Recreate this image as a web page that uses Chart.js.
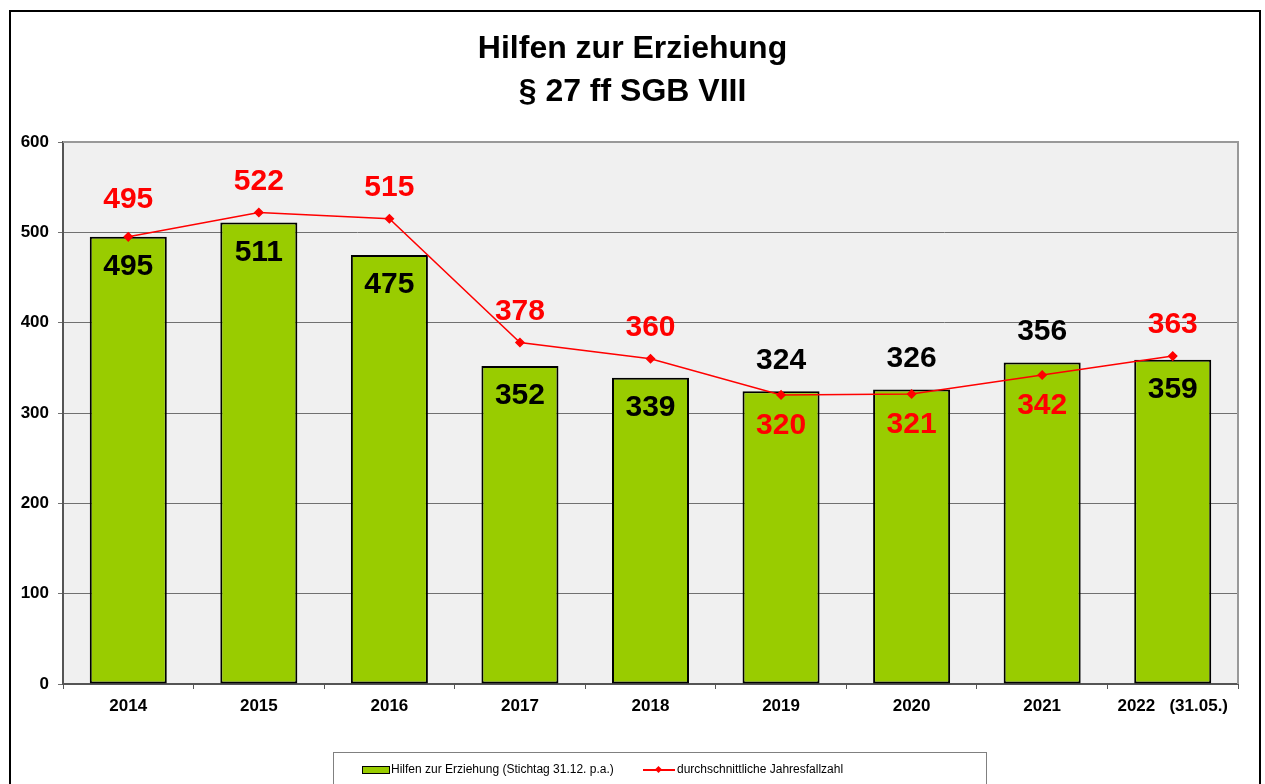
<!DOCTYPE html>
<html>
<head>
<meta charset="utf-8">
<script src="https://cdn.jsdelivr.net/npm/chart.js@4/dist/chart.umd.min.js"></script>
<style>
    body { margin: 0; background: #fff; font-family: "Liberation Sans", Arial, sans-serif; }
    #wrap { position: relative; width: 1265px; height: 784px; overflow: hidden; }
    #frame { position: absolute; left: 9px; top: 10px; width: 1252px; height: 800px; border: 2px solid #000; box-sizing: border-box; }
    #title { position: absolute; left: 0; width: 1265px; top: 26px; text-align: center; font-weight: bold; font-size: 32px; line-height: 43px; color: #000; }
    #chart { position: absolute; left: 0; top: 0; }
    #legend { position: absolute; left: 333px; top: 752px; width: 654px; height: 40px; border: 1px solid #808080; box-sizing: border-box; font-size: 12px; color: #000; }
    .item { position: absolute; top: 8px; white-space: nowrap; line-height: 16px; }
    .barkey { display: inline-block; width: 26px; height: 6px; background: #99cc00; border: 1px solid #000; vertical-align: middle; margin-right: 1px; }
    .linekey { display: inline-block; position: relative; width: 32px; height: 16px; vertical-align: middle; margin-right: 2px; }
    .linekey i { position: absolute; left: 0; top: 7px; width: 32px; height: 2px; background: #ff0000; }
    .linekey b { position: absolute; left: 13px; top: 5px; width: 5px; height: 5px; background: #ff0000; transform: rotate(45deg); }
</style>
</head>
<body>
<div id="wrap">
    <div id="frame"></div>
    <canvas id="chart" width="1265" height="784"></canvas>
    <div id="title">Hilfen zur Erziehung<br>§ 27 ff SGB VIII</div>
    <div id="legend">
        <div class="item" style="left:28px"><span class="barkey"></span>Hilfen zur Erziehung (Stichtag 31.12. p.a.)</div>
        <div class="item" style="left:309px"><span class="linekey"><i></i><b></b></span>durchschnittliche Jahresfallzahl</div>
    </div>
</div>
<script>
// Daten
const years = ['2014', '2015', '2016', '2017', '2018', '2019', '2020', '2021', '2022   (31.05.)'];
const stichtagValues = [495, 511, 475, 352, 339, 324, 326, 356, 359];
const jahresValues = [495, 522, 515, 378, 360, 320, 321, 342, 363];
const yTicks = [0, 100, 200, 300, 400, 500, 600];

// where the value labels sit (bar label above the bar, line label below the point)
const barLabelAbove = [false, false, false, false, false, true, true, true, false];

// gray plot background + border
const plotBg = {
    id: 'plotBg',
    beforeDraw(chart) {
        const a = chart.chartArea;
        const ctx = chart.ctx;
        ctx.save();
        ctx.fillStyle = '#f0f0f0';
        ctx.fillRect(a.left, a.top, a.right - a.left, a.bottom - a.top);
        ctx.restore();
    },
    afterDatasetsDraw(chart) {
        const a = chart.chartArea;
        const ctx = chart.ctx;
        ctx.save();
        ctx.strokeStyle = '#999';
        ctx.lineWidth = 2;
        ctx.beginPath();
        ctx.moveTo(a.left, a.top);
        ctx.lineTo(a.right, a.top);
        ctx.lineTo(a.right, a.bottom);
        ctx.stroke();
        ctx.restore();
    }
};

// value labels
const valueLabels = {
    id: 'valueLabels',
    afterDatasetsDraw(chart) {
        const ctx = chart.ctx;
        ctx.save();
        ctx.font = 'bold 30px "Liberation Sans", Arial, sans-serif';
        ctx.textAlign = 'center';
        ctx.textBaseline = 'middle';
        const bars = chart.getDatasetMeta(1).data;
        const pts = chart.getDatasetMeta(0).data;
        bars.forEach((bar, i) => {
            ctx.fillStyle = '#000';
            const dy = barLabelAbove[i] ? -31 : 30;
            ctx.fillText(stichtagValues[i], bar.x, bar.y + dy);
        });
        pts.forEach((p, i) => {
            ctx.fillStyle = '#ff0000';
            const dy = barLabelAbove[i] ? 31 : (i === 0 ? -37 : -31);
            ctx.fillText(jahresValues[i], p.x, p.y + dy);
        });
        ctx.restore();
    }
};

const ctx = document.getElementById('chart').getContext('2d');
new Chart(ctx, {
    data: {
        labels: years,
        datasets: [{
            type: 'line',
            label: 'durchschnittliche Jahresfallzahl',
            data: jahresValues,
            borderColor: '#ff0000',
            backgroundColor: '#ff0000',
            borderWidth: 1.5,
            pointStyle: 'rectRot',
            pointRadius: 4,
            pointHoverRadius: 4,
            tension: 0,
            order: 0
        }, {
            type: 'bar',
            label: 'Hilfen zur Erziehung (Stichtag 31.12. p.a.)',
            data: stichtagValues,
            backgroundColor: '#99cc00',
            borderColor: '#000',
            borderWidth: 2,
            borderSkipped: false,
            categoryPercentage: 1,
            barPercentage: 0.59,
            order: 1
        }]
    },
    options: {
        responsive: false,
        animation: false,
        events: [],
        layout: { padding: { top: 142, right: 27, left: 0, bottom: 0 } },
        plugins: {
            legend: { display: false },
            tooltip: { enabled: false }
        },
        scales: {
            x: {
                afterFit(scale) { scale.height = 100; },
                grid: {
                    offset: true,
                    drawOnChartArea: false,
                    tickLength: 5,
                    color: '#555'
                },
                border: { color: '#555', width: 2 },
                ticks: {
                    color: '#000',
                    font: { family: '"Liberation Sans", Arial, sans-serif', size: 17, weight: 'bold' },
                    padding: 7,
                    maxRotation: 0
                }
            },
            y: {
                min: 0,
                max: 600,
                afterFit(scale) { scale.width = 63; },
                afterBuildTicks(scale) { scale.ticks = yTicks.map(v => ({ value: v })); },
                grid: {
                    color: '#707070',
                    lineWidth: 1,
                    tickLength: 5,
                    drawTicks: true
                },
                border: { color: '#555', width: 2 },
                ticks: {
                    color: '#000',
                    font: { family: '"Liberation Sans", Arial, sans-serif', size: 17, weight: 'bold' },
                    padding: 9
                }
            }
        }
    },
    plugins: [plotBg, valueLabels]
});
</script>
</body>
</html>
